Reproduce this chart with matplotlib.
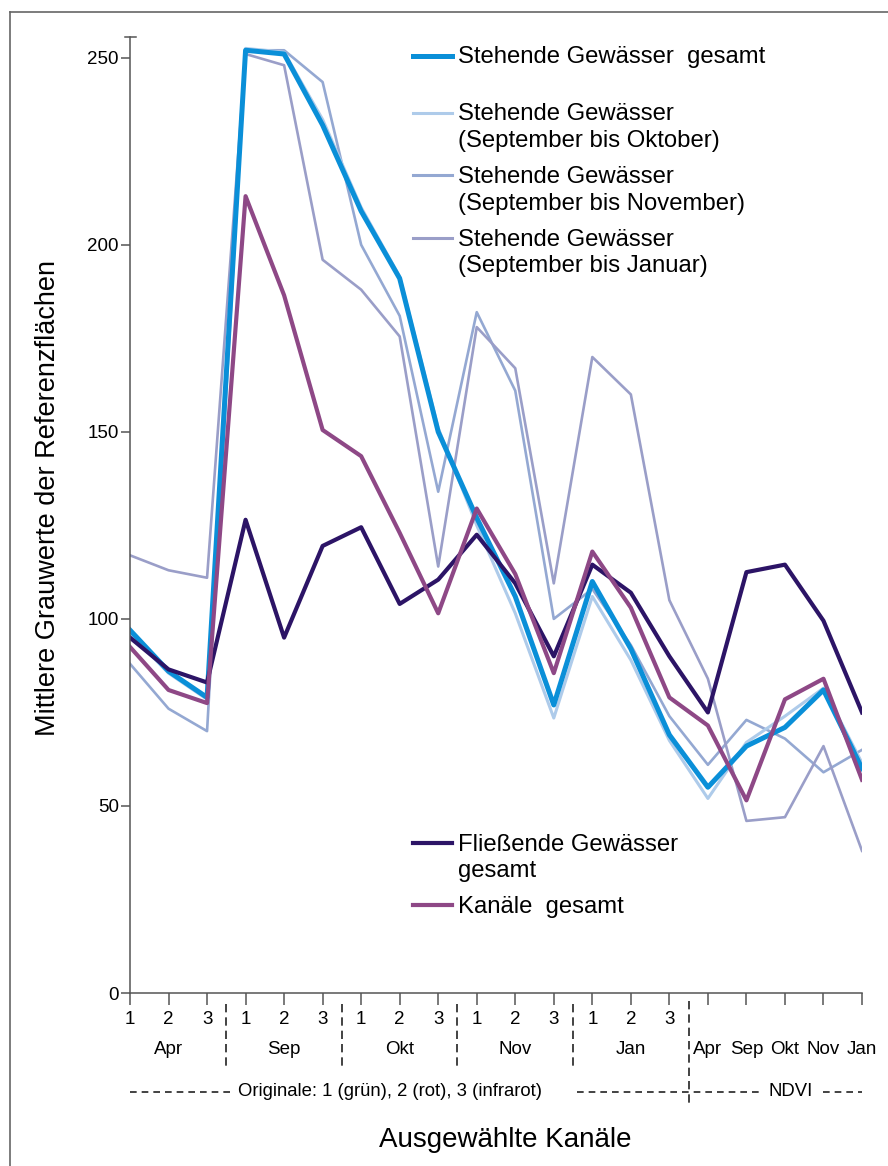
import numpy as np
import matplotlib
matplotlib.use("Agg")
import matplotlib.pyplot as plt
from matplotlib.lines import Line2D

plt.rcParams['font.family'] = ['Liberation Sans', 'DejaVu Sans']

# x positions: 5 dates x 3 channels, then 5 NDVI dates
channels = ["1", "2", "3"] * 5
months = ["Apr", "Sep", "Okt", "Nov", "Jan"]
ndvi_months = ["Apr", "Sep", "Okt", "Nov", "Jan"]

stehend_gesamt = [97, 86, 79, 252, 251, 232, 209, 191, 150, 127, 106, 77, 110, 92, 69, 55, 66, 71, 81, 60]
stehend_sep_okt = [96, 85.5, 78.5, 252.5, 251.5, 233.5, 210, 191.5, 151, 125, 101.5, 73.5, 106, 89, 67.5, 52, 67, 74, 81.5, 61.5]
stehend_sep_nov = [88, 76, 70, 252, 252, 243.5, 200, 181, 134, 182, 161, 100, 108, 93, 74, 61, 73, 68, 59, 65]
stehend_sep_jan = [117, 113, 111, 251, 248, 196, 188, 175.5, 114, 178, 167, 109.5, 170, 160, 105, 84, 46, 47, 66, 38]
fliessend_gesamt = [95, 86.5, 83, 126.5, 95, 119.5, 124.5, 104, 110.5, 122.5, 109.5, 90, 114.5, 107, 90, 75, 112.5, 114.5, 99.5, 75]
kanaele_gesamt = [92.5, 81, 77.5, 213, 186.5, 150.5, 143.5, 123, 101.5, 129.5, 112, 85.5, 118, 103, 79, 71.5, 51.5, 78.5, 84, 57]

W, H = 888, 1166


def fx(x):
    return x / W


def fy(y):
    return 1 - y / H


fig = plt.figure(figsize=(W / 100, H / 100), dpi=100)
ax = fig.add_axes([fx(130), fy(993), (862 - 130) / W, (993 - 37) / H])

x = np.arange(len(stehend_gesamt))
ax.plot(x, stehend_sep_nov, color="#94a8d2", lw=1.9)
ax.plot(x, stehend_sep_jan, color="#9a9ec8", lw=1.9)
ax.plot(x, stehend_sep_okt, color="#aecbea", lw=2.2)
ax.plot(x, stehend_gesamt, color="#0a8fd8", lw=3.6)
ax.plot(x, fliessend_gesamt, color="#2c1466", lw=3.0)
ax.plot(x, kanaele_gesamt, color="#8e4886", lw=3.0)

ax.set_xlim(0, len(x) - 1)
ax.set_ylim(0, (993 - 37) / 3.741)
ax.set_yticks([0, 50, 100, 150, 200, 250])
ax.set_xticks(x)
ax.set_xticklabels([])
ax.spines[['top', 'right']].set_visible(False)
for s in ['left', 'bottom']:
    ax.spines[s].set_color("#555555")
    ax.spines[s].set_linewidth(1.1)
ax.tick_params(axis='y', direction='out', length=6.5, width=1.1, color="#555555",
               labelsize=13.5, pad=1.5)
ax.tick_params(axis='x', direction='out', length=8.5, width=1.1, color="#555555")

# cap on top of the y axis
fig.add_artist(Line2D([fx(125), fx(136)], [fy(37), fy(37)], color="#555555", lw=1.1))


def ay(ypix):
    return (993 - ypix) / (993 - 37)


xt = ax.get_xaxis_transform()
for i, c in enumerate(channels):
    ax.text(i, ay(1019), c, transform=xt, ha='center', va='center', fontsize=13.5)
for k, m in enumerate(months):
    ax.text(3 * k + 1, ay(1050), m, transform=xt, ha='center', va='center', fontsize=13.5)
for k, m in enumerate(ndvi_months):
    ax.text(15 + k, ay(1050), m, transform=xt, ha='center', va='center', fontsize=13.5)

# separators between dates
for k in range(4):
    ax.plot([3 * k + 2.5] * 2, [ay(1004), ay(1070)], transform=xt, clip_on=False,
            color="#222222", lw=1.2, ls=(0, (5, 3)))
ax.plot([14.5] * 2, [ay(1001), ay(1106)], transform=xt, clip_on=False,
        color="#222222", lw=1.2, ls=(0, (5, 3)))

# bottom row: original channels / NDVI
ax.plot([0, 2.6], [ay(1092)] * 2, transform=xt, clip_on=False, color="#222222", lw=1.2, ls=(0, (4, 3)))
ax.plot([11.6, 16.35], [ay(1092)] * 2, transform=xt, clip_on=False, color="#222222", lw=1.2, ls=(0, (4, 3)))
ax.plot([18.0, 19], [ay(1092)] * 2, transform=xt, clip_on=False, color="#222222", lw=1.2, ls=(0, (4, 3)))
ax.text(2.8, ay(1092), "Originale: 1 (grün), 2 (rot), 3 (infrarot)", transform=xt,
        ha='left', va='center', fontsize=13.3)
ax.text(17.15, ay(1092), "NDVI", transform=xt, ha='center', va='center', fontsize=13.3)

fig.text(fx(48), fy(498), "Mittlere Grauwerte der Referenzflächen", rotation=90,
         ha='center', va='center', fontsize=19.5)
fig.text(fx(505), fy(1140), "Ausgewählte Kanäle", ha='center', va='center', fontsize=20)

# legend entries, drawn by hand
legend_items = [
    ("#0a8fd8", 3.6, 56, ["Stehende Gewässer  gesamt"], [63.5]),
    ("#aecbea", 2.2, 113, ["Stehende Gewässer", "(September bis Oktober)"], [120.5, 147]),
    ("#94a8d2", 2.2, 175, ["Stehende Gewässer", "(September bis November)"], [183, 210]),
    ("#9a9ec8", 2.2, 238, ["Stehende Gewässer", "(September bis Januar)"], [246.5, 272]),
    ("#2c1466", 3.0, 843, ["Fließende Gewässer", "gesamt"], [851, 877]),
    ("#8e4886", 3.0, 905, ["Kanäle  gesamt"], [913]),
]
for col, lw, yl, lines, bases in legend_items:
    fig.add_artist(Line2D([fx(413), fx(452)], [fy(yl), fy(yl)], color=col, lw=lw))
    for t, b in zip(lines, bases):
        fig.text(fx(458), fy(b), t, ha='left', va='baseline', fontsize=17.2)

# outer frame
fig.add_artist(Line2D([fx(10), fx(10)], [fy(12), 0], color="#666666", lw=1.2))
fig.add_artist(Line2D([fx(10), 1], [fy(12), fy(12)], color="#666666", lw=1.2))

fig.savefig("out.png", dpi=100)
